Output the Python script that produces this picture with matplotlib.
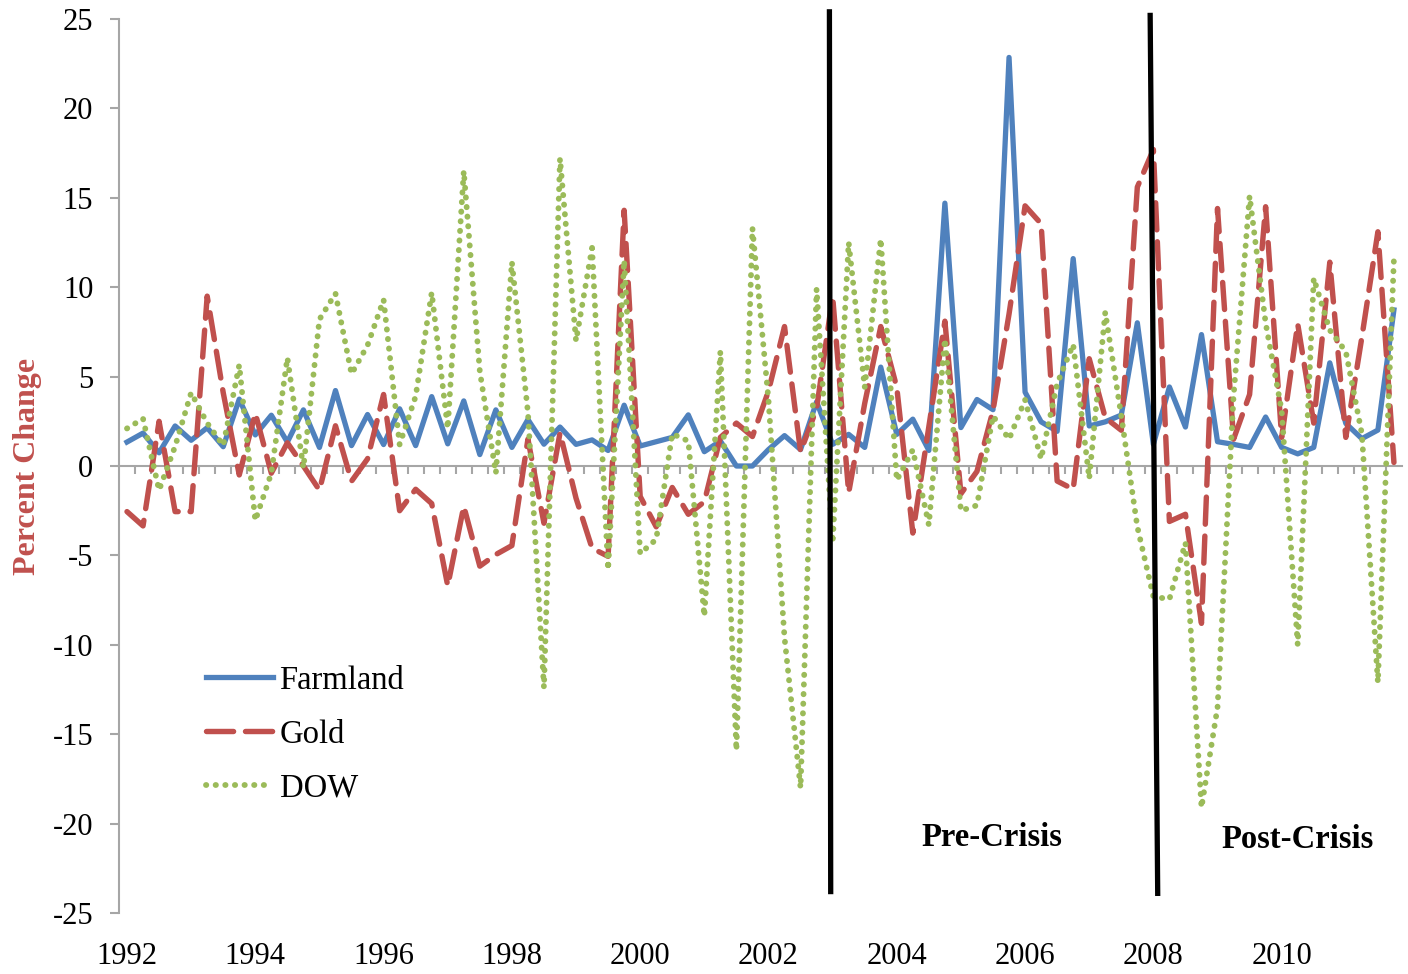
import numpy as np
import matplotlib
matplotlib.use('Agg')
import matplotlib.pyplot as plt
from matplotlib.lines import Line2D

plt.rcParams['font.family'] = ['Liberation Serif', 'DejaVu Serif']
plt.rcParams['axes.unicode_minus'] = False

# --- quarterly percent changes, 1992Q1 .. 2011Q4 ---
year_labels = ['1992', '1994', '1996', '1998', '2000',
               '2002', '2004', '2006', '2008', '2010']

farmland = [1.34, 1.84, 0.74, 2.24, 1.44, 2.14, 1.08, 3.74, 1.74, 2.84,
            1.34, 3.14, 1.04, 4.22, 1.14, 2.88, 1.2, 3.2, 1.14, 3.88,
            1.24, 3.64, 0.64, 3.14, 1.04, 2.6, 1.22, 2.18, 1.21, 1.46,
            0.87, 3.4, 1.12, 1.36, 1.6, 2.86, 0.8, 1.4, 0.0, 0.0,
            0.92, 1.7, 0.92, 3.59, 1.21, 1.77, 1.04, 5.53, 1.77, 2.62,
            0.87, 14.7, 2.15, 3.72, 3.15, 22.85, 4.13, 2.47, 1.94, 11.6,
            2.24, 2.47, 2.85, 8.01, 1.21, 4.42, 2.18, 7.35, 1.36, 1.21,
            1.04, 2.74, 1.04, 0.68, 1.04, 5.77, 2.38, 1.53, 2.01, 8.73]

gold = [-2.55, -3.35, 2.5, -2.55, -2.55, 9.5, 4.1, -0.5, 2.95, -0.4,
        1.3, 0.0, -1.35, 2.25, -0.85, 0.4, 4.0, -2.5, -1.3, -2.1,
        -6.7, -2.25, -5.6, -4.95, -4.45, 1.5, -3.2, 1.85, -1.8, -4.6,
        -5.05, 14.3, -1.7, -3.4, -1.2, -2.7, -2.0, 1.6, 2.4, 1.65,
        4.2, 7.8, 0.8, 3.2, 9.5, -1.5, 3.5, 7.8, 4.4, -3.75,
        2.2, 8.1, -1.55, -0.3, 3.1, 8.5, 14.55, 13.55, -0.84, -1.3,
        6.0, 2.7, 2.0, 15.6, 17.7, -3.1, -2.7, -8.8, 14.4, 1.5,
        4.0, 14.5, 1.6, 7.95, 2.4, 11.4, 1.6, 7.2, 13.1, 0.2]

dow = [2.1, 2.65, -1.35, 1.1, 4.1, 2.4, 1.15, 5.65, -3.05, -0.4,
       6.05, -0.1, 8.2, 9.65, 5.15, 6.75, 9.3, 1.2, 3.9, 9.7,
       2.1, 16.5, 5.3, -0.4, 11.4, 3.0, -12.4, 17.2, 7.0, 12.2,
       -5.8, 11.5, -4.9, -4.1, 1.8, 1.4, -8.4, 6.4, -15.9, 13.3,
       3.7, -9.6, -18.0, 9.9, -4.3, 12.5, 4.4, 12.7, -0.8, 0.9,
       -3.3, 7.1, -2.5, -2.2, 2.8, 1.5, 3.7, 0.4, 4.6, 6.8,
       -0.7, 8.6, 2.8, -3.4, -7.3, -7.45, -4.3, -19.1, -13.5, 3.9,
       15.1, 8.0, 3.1, -10.0, 10.5, 7.6, 6.4, 1.8, -12.1, 11.6]

quarters = np.arange(len(farmland))

BLUE = '#4F81BD'
RED = '#C0504D'
GREEN = '#9BBB59'
GRAY = '#A6A6A6'

fig = plt.figure(figsize=(14.08, 9.74), dpi=100)
ax = fig.add_axes([0.0845, 0.0626, 0.9112, 0.9179])

gold_style = dict(color=RED, lw=3.9, dashes=(5, 2.2), dash_capstyle='round')
dow_style = dict(color=GREEN, lw=4.2, dashes=(0.05, 1.6), dash_capstyle='round')

ax.plot(quarters, farmland, color=BLUE, lw=3.8, zorder=3)
ax.plot(quarters, gold, zorder=4, **gold_style)
ax.plot(quarters, dow, zorder=5, **dow_style)

ax.set_xlim(-0.5, len(farmland) - 0.5)
ax.set_ylim(-25, 25)

# crisis markers (hand-drawn lines in the original, slightly tilted)
ax.plot([43.8, 43.88], [25.4, -23.8], color='black', lw=3.8, clip_on=False, zorder=6)
ax.plot([63.8, 64.27], [25.2, -23.9], color='black', lw=3.8, clip_on=False, zorder=6)
ax.text(53.9, -20.8, 'Pre-Crisis', fontsize=23.5, fontweight='bold',
        ha='center', va='center')
ax.text(73.0, -20.9, 'Post-Crisis', fontsize=23.5, fontweight='bold',
        ha='center', va='center')

# spines: left axis and the category axis drawn at zero
for s in ['top', 'right']:
    ax.spines[s].set_visible(False)
ax.spines['left'].set_color(GRAY)
ax.spines['left'].set_linewidth(1.5)
ax.spines['bottom'].set_position(('data', 0))
ax.spines['bottom'].set_color(GRAY)
ax.spines['bottom'].set_linewidth(1.5)

# y axis
ax.set_yticks(np.arange(-25, 26, 5))
ax.tick_params(axis='y', direction='out', length=6.5, width=1.5, color=GRAY,
               labelsize=22, pad=12)

# quarter tick marks hanging from the zero line
ax.set_xticks(np.arange(0.5, len(farmland) - 0.5, 1))
ax.set_xticklabels([])
ax.tick_params(axis='x', direction='out', length=5.5, width=1.5, color=GRAY)

# year labels at the bottom of the plot area
year_axis = ax.secondary_xaxis('bottom')
year_axis.spines['bottom'].set_visible(False)
year_axis.set_xticks(np.arange(0, len(farmland), 8))
year_axis.set_xticklabels(year_labels)
year_axis.tick_params(length=0, labelsize=22, pad=21)

ax.set_ylabel('Percent Change', color=RED, fontsize=23, fontweight='bold')
ax.yaxis.set_label_coords(-0.06, 0.5)

handles = [
    Line2D([], [], color=BLUE, lw=3.8),
    Line2D([], [], **gold_style),
    Line2D([], [], **dow_style),
]
ax.legend(handles, ['Farmland', 'Gold', 'DOW'], loc='upper left',
          bbox_to_anchor=(0.045, 0.31), frameon=False, fontsize=23.5,
          handlelength=2.05, handletextpad=0.2, labelspacing=0.72)

fig.savefig('out.png', dpi=100)
